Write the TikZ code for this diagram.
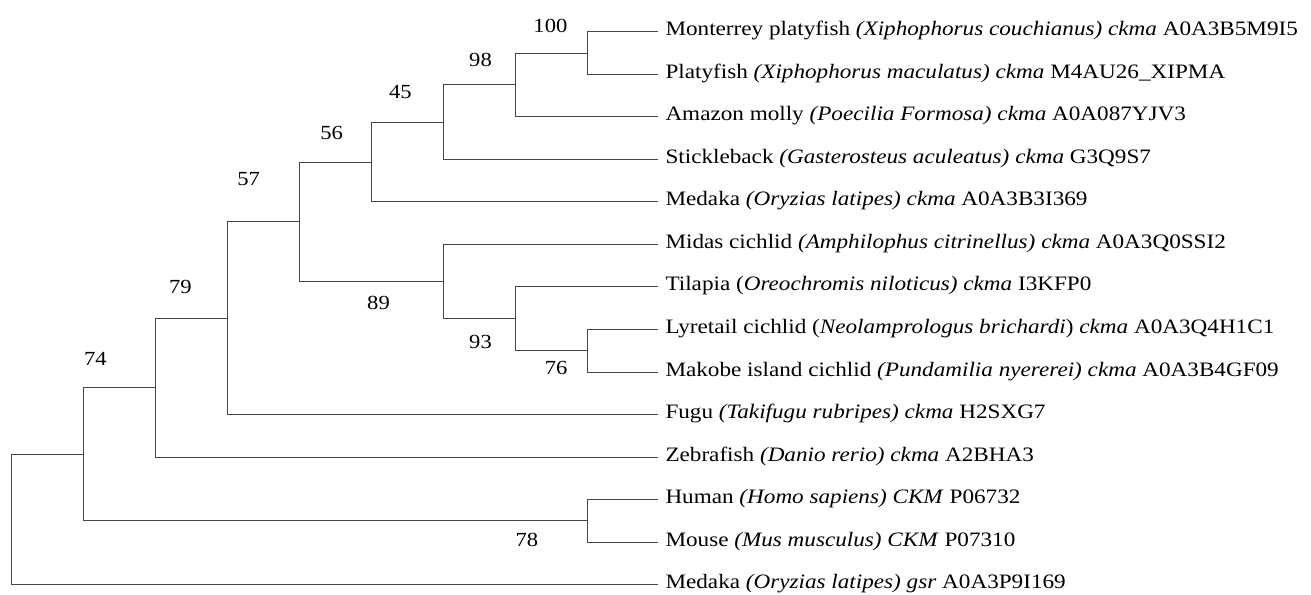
\documentclass[tikz,border=0pt]{standalone}
\usepackage{fontspec}
\setmainfont{Liberation Serif}[FakeStretch=1.13]
\begin{document}
\begin{tikzpicture}[x=1pt,y=-1pt,
  branch/.style={draw=black!72, line width=0.9pt},
  leaf/.style={anchor=west, inner xsep=7pt, inner ysep=0pt, text height=13pt, text depth=5pt, font=\fontsize{20.5}{24}\selectfont},
  boot/.style={inner sep=0pt, font=\fontsize{20}{24}\selectfont}]
\useasboundingbox (0,0) rectangle (1311,594);
% leaves
\node[leaf] (l1)  at (658.3,31.7)  {Monterrey platyfish \textit{(Xiphophorus couchianus) ckma} A0A3B5M9I5};
\node[leaf] (l2)  at (658.3,74.2)  {Platyfish \textit{(Xiphophorus maculatus) ckma} M4AU26\_XIPMA};
\node[leaf] (l3)  at (658.3,116.8) {Amazon molly \textit{(Poecilia Formosa) ckma} A0A087YJV3};
\node[leaf] (l4)  at (658.3,159.3) {Stickleback \textit{(Gasterosteus aculeatus) ckma} G3Q9S7};
\node[leaf] (l5)  at (658.3,201.9) {Medaka \textit{(Oryzias latipes) ckma} A0A3B3I369};
\node[leaf] (l6)  at (658.3,244.4) {Midas cichlid \textit{(Amphilophus citrinellus) ckma} A0A3Q0SSI2};
\node[leaf] (l7)  at (658.3,286.9) {Tilapia (\textit{Oreochromis niloticus) ckma} I3KFP0};
\node[leaf] (l8)  at (658.3,329.5) {Lyretail cichlid (\textit{Neolamprologus brichardi}) \textit{ckma} A0A3Q4H1C1};
\node[leaf] (l9)  at (658.3,372.0) {Makobe island cichlid \textit{(Pundamilia nyererei) ckma} A0A3B4GF09};
\node[leaf] (l10) at (658.3,414.6) {Fugu \textit{(Takifugu rubripes) ckma} H2SXG7};
\node[leaf] (l11) at (658.3,457.1) {Zebrafish \textit{(Danio rerio) ckma} A2BHA3};
\node[leaf] (l12) at (658.3,499.6) {Human \textit{(Homo sapiens) CKM} P06732};
\node[leaf] (l13) at (658.3,542.2) {Mouse \textit{(Mus musculus) CKM} P07310};
\node[leaf] (l14) at (658.3,584.7) {Medaka \textit{(Oryzias latipes) gsr} A0A3P9I169};
% internal nodes
\coordinate (n100) at (587,53.0);
\coordinate (n98)  at (515,84.9);
\coordinate (n45)  at (443.4,122.1);
\coordinate (n56)  at (371.3,162.0);
\coordinate (n76)  at (587,350.8);
\coordinate (n93)  at (515,318.8);
\coordinate (n89)  at (443.4,281.6);
\coordinate (n57)  at (299.7,221.8);
\coordinate (n79)  at (227.6,318.2);
\coordinate (n74)  at (155.5,387.6);
\coordinate (n78)  at (587,520.9);
\coordinate (nA)   at (83.4,454.3);
\coordinate (root) at (11.8,519.5);
% branches
\draw[branch] (n100) |- (l1.west);
\draw[branch] (n100) |- (l2.west);
\draw[branch] (n98) |- (n100);
\draw[branch] (n98) |- (l3.west);
\draw[branch] (n45) |- (n98);
\draw[branch] (n45) |- (l4.west);
\draw[branch] (n56) |- (n45);
\draw[branch] (n56) |- (l5.west);
\draw[branch] (n76) |- (l8.west);
\draw[branch] (n76) |- (l9.west);
\draw[branch] (n93) |- (l7.west);
\draw[branch] (n93) |- (n76);
\draw[branch] (n89) |- (l6.west);
\draw[branch] (n89) |- (n93);
\draw[branch] (n57) |- (n56);
\draw[branch] (n57) |- (n89);
\draw[branch] (n79) |- (n57);
\draw[branch] (n79) |- (l10.west);
\draw[branch] (n74) |- (n79);
\draw[branch] (n74) |- (l11.west);
\draw[branch] (n78) |- (l12.west);
\draw[branch] (n78) |- (l13.west);
\draw[branch] (nA) |- (n74);
\draw[branch] (nA) |- (n78);
\draw[branch] (root) |- (nA);
\draw[branch] (root) |- (l14.west);
% bootstrap values
\node[boot] (b100) at (550.4,25.9) {100};
\node[boot] (b98)  at (480.5,60.2) {98};
\node[boot] (b45)  at (400.4,92.2) {45};
\node[boot] (b56)  at (331.7,132.5) {56};
\node[boot] (b57)  at (248.6,179.0) {57};
\node[boot] (b79)  at (180.4,286.5) {79};
\node[boot] (b74)  at (95.3,358.7) {74};
\node[boot] (b89)  at (378.5,303.0) {89};
\node[boot] (b93)  at (480.5,342.2) {93};
\node[boot] (b76)  at (556.2,367.5) {76};
\node[boot] (b78)  at (526.8,540.0) {78};
\end{tikzpicture}
\end{document}
